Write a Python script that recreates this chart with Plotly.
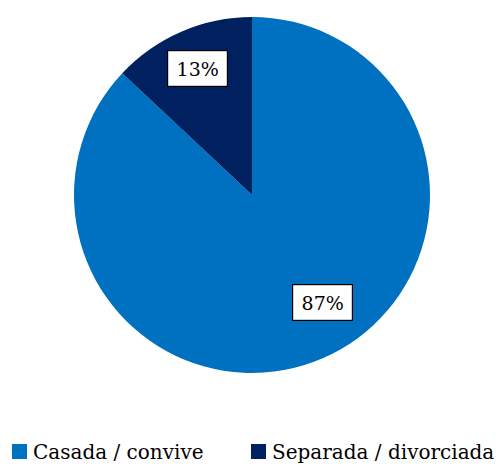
import plotly.graph_objects as go

# Marital status distribution (percent)
labels = ["Casada / convive", "Separada / divorciada"]
values = [87, 13]
colors = ["#0070C0", "#002060"]

W, H = 504, 466
FONT = "DejaVu Serif"

# pie geometry in pixels: centre and radius
cx, cy, r = 252, 195, 178

fig = go.Figure(
    go.Pie(
        labels=labels,
        values=values,
        sort=False,
        direction="clockwise",
        rotation=0,
        marker=dict(colors=colors, line=dict(width=0)),
        textinfo="none",
        hoverinfo="label+percent",
        showlegend=False,
        domain=dict(
            x=[(cx - r) / W, (cx + r) / W],
            y=[1 - (cy + r) / H, 1 - (cy - r) / H],
        ),
    )
)

# boxed data labels (pixel centres)
label_pos = [(322, 302), (197, 68)]
total = sum(values)
annotations = []
for v, (px, py) in zip(values, label_pos):
    annotations.append(
        dict(
            x=px / W, y=1 - py / H, xref="paper", yref="paper",
            text=f"{round(100 * v / total)}%",
            showarrow=False,
            font=dict(family=FONT, size=19, color="black"),
            bgcolor="white", bordercolor="black", borderwidth=1.2,
            width=57, height=33, xanchor="center", yanchor="middle",
        )
    )

# legend row drawn as squares + text
shapes = []
legend_items = [(12, 31), (251, 270)]
ly = 452
for lab, col, (sx, tx) in zip(labels, colors, legend_items):
    shapes.append(
        dict(type="rect", xref="paper", yref="paper",
             x0=sx / W, x1=(sx + 15) / W,
             y0=1 - (ly + 7) / H, y1=1 - (ly - 8) / H,
             fillcolor=col, line=dict(width=0))
    )
    annotations.append(
        dict(
            x=tx / W, y=1 - ly / H, xref="paper", yref="paper",
            text=lab, showarrow=False, xanchor="left", yanchor="middle",
            font=dict(family=FONT, size=20, color="black"),
        )
    )

fig.update_layout(
    width=W, height=H,
    margin=dict(l=0, r=0, t=0, b=0),
    paper_bgcolor="white",
    font=dict(family=FONT),
    annotations=annotations,
    shapes=shapes,
)

fig.write_html("out.html")
